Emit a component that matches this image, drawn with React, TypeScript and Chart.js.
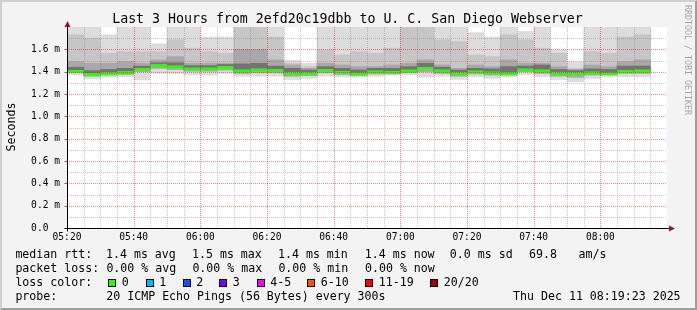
import React, { useEffect, useRef } from 'react';
import { Chart, registerables } from 'chart.js';

Chart.register(...registerables);

// ---------- text ----------
const chartTitle = 'Last 3 Hours from 2efd20c19dbb to U. C. San Diego Webserver';
const yAxisTitle = 'Seconds';
const watermark = 'RRDTOOL / TOBI OETIKER';
const probeLabel = 'probe:';
const probeText = '20 ICMP Echo Pings (56 Bytes) every 300s';
const stampText = 'Thu Dec 11 08:19:23 2025';
const rttRow = ['median rtt:', '1.4 ms avg', '1.5 ms max', '1.4 ms min', '1.4 ms now', '0.0 ms sd', '69.8', 'am/s'];
const lossRow = ['packet loss:', '0.00 % avg', '0.00 % max', '0.00 % min', '0.00 % now'];
const lossColorLabel = 'loss color:';
const lossLabels = ['0', '1', '2', '3', '4-5', '6-10', '11-19', '20/20'];
const lossColors = ['#26ff00', '#00b8ff', '#0059ff', '#7e00ff', '#ff00ff', '#ff5500', '#ff0000', '#a10000'];

// ---------- axes ----------
const axisStart = '05:20';
const axisEnd = '08:20';
const slotLength = 5; // minutes per bar
const xMajorLabels = ['05:20', '05:40', '06:00', '06:20', '06:40', '07:00', '07:20', '07:40', '08:00'];
const yMajorLabels = ['0.0', '0.2', '0.4', '0.6', '0.8', '1.0', '1.2', '1.4', '1.6'];
const yUnit = 'm';
const yMax = 1.8;

// ---------- data (ms) ----------
const slotStarts = [
  '05:20', '05:25', '05:30', '05:35', '05:40', '05:45', '05:50', '05:55',
  '06:00', '06:05', '06:10', '06:15', '06:20', '06:25', '06:30', '06:35',
  '06:40', '06:45', '06:50', '06:55', '07:00', '07:05', '07:10', '07:15',
  '07:20', '07:25', '07:30', '07:35', '07:40', '07:45', '07:50', '07:55',
  '08:00', '08:05', '08:10',
];
const maxRtt = [
  1.85, 1.85, 1.73, 1.85, 1.85, 1.65, 1.85, 1.85, 1.71, 1.71, 1.85, 1.85,
  1.85, 1.5, 1.475, 1.85, 1.85, 1.85, 1.85, 1.85, 1.85, 1.85, 1.85, 1.85,
  1.75, 1.71, 1.85, 1.76, 1.85, 1.595, 1.49, 1.85, 1.85, 1.85, 1.85,
];
const hiOuter = [
  1.73, 1.7, 1.565, 1.58, 1.58, 1.58, 1.685, 1.61, 1.58, 1.565, 1.85, 1.85,
  1.71, 1.475, 1.445, 1.595, 1.55, 1.58, 1.565, 1.61, 1.85, 1.85, 1.685, 1.67,
  1.55, 1.535, 1.73, 1.685, 1.61, 1.565, 1.43, 1.58, 1.565, 1.71, 1.73,
];
const hiMid = [
  1.49, 1.475, 1.475, 1.49, 1.475, 1.505, 1.535, 1.475, 1.475, 1.475, 1.6, 1.6,
  1.505, 1.46, 1.43, 1.475, 1.46, 1.445, 1.445, 1.46, 1.475, 1.505, 1.46, 1.43,
  1.46, 1.445, 1.505, 1.475, 1.475, 1.445, 1.42, 1.46, 1.445, 1.49, 1.505,
];
const hiInner = [
  1.44, 1.41, 1.42, 1.43, 1.45, 1.48, 1.48, 1.455, 1.455, 1.465, 1.47, 1.475,
  1.45, 1.43, 1.415, 1.445, 1.43, 1.415, 1.43, 1.43, 1.445, 1.475, 1.44, 1.415,
  1.43, 1.425, 1.445, 1.45, 1.46, 1.42, 1.41, 1.425, 1.42, 1.45, 1.45,
];
const medianRtt = [
  1.415, 1.385, 1.394, 1.403, 1.433, 1.466, 1.454, 1.436, 1.436, 1.448, 1.418, 1.427,
  1.424, 1.394, 1.394, 1.424, 1.406, 1.391, 1.409, 1.406, 1.418, 1.442, 1.418, 1.394,
  1.409, 1.4, 1.394, 1.427, 1.418, 1.394, 1.394, 1.4, 1.391, 1.412, 1.418,
];
const loInner = [
  1.403, 1.373, 1.382, 1.39, 1.42, 1.455, 1.442, 1.424, 1.424, 1.436, 1.405, 1.414,
  1.41, 1.38, 1.382, 1.41, 1.393, 1.378, 1.396, 1.394, 1.405, 1.428, 1.405, 1.38,
  1.396, 1.387, 1.382, 1.415, 1.405, 1.38, 1.38, 1.387, 1.38, 1.4, 1.405,
];
const loMid = [
  1.39, 1.36, 1.37, 1.375, 1.4, 1.43, 1.42, 1.405, 1.405, 1.415, 1.385, 1.39,
  1.39, 1.36, 1.365, 1.39, 1.375, 1.365, 1.38, 1.38, 1.39, 1.4, 1.385, 1.36,
  1.38, 1.37, 1.37, 1.4, 1.385, 1.36, 1.35, 1.37, 1.37, 1.385, 1.385,
];
const minRtt = [
  1.37, 1.335, 1.35, 1.355, 1.325, 1.385, 1.385, 1.37, 1.37, 1.385, 1.36, 1.36,
  1.36, 1.33, 1.34, 1.36, 1.355, 1.35, 1.36, 1.37, 1.37, 1.35, 1.36, 1.33,
  1.355, 1.34, 1.355, 1.375, 1.355, 1.33, 1.31, 1.34, 1.36, 1.355, 1.355,
];

// ---------- helpers ----------
const toMin = (s: string) => {
  const [h, m] = s.split(':').map(Number);
  return h * 60 + m;
};
const origin = toMin(axisStart);
const span = toMin(axisEnd) - origin;
const xCenters = slotStarts.map((s) => toMin(s) - origin + slotLength / 2);
const xGrid: number[] = [];
for (let m = 0; m < span; m += slotLength) xGrid.push(m);
const yGrid: number[] = [];
for (let i = 0; i < Math.round(yMax * 10); i++) yGrid.push(i / 10);

const isMajorX = (v: number) => Math.round(v) % 20 === 0;
const isMajorY = (v: number) => Math.round(v * 10) % 2 === 0;

const MONO = "'DejaVu Sans Mono', monospace";
const MAJOR = 'rgba(255,0,0,0.5)';
const MINOR = 'rgba(128,128,128,0.45)';

const band = (lo: number[], hi: number[], color: string, order: number) => ({
  type: 'bar' as const,
  data: xCenters.map((x, i) => ({ x, y: [lo[i], hi[i]] })),
  backgroundColor: color,
  borderWidth: 0,
  grouped: false,
  barPercentage: 1,
  categoryPercentage: 1,
  order,
});

const framePlugin = {
  id: 'rrdFrame',
  beforeDraw(chart: any) {
    const { ctx, chartArea: a } = chart;
    ctx.save();
    ctx.fillStyle = '#ffffff';
    ctx.fillRect(a.left, a.top, a.right - a.left, a.bottom - a.top);
    ctx.restore();
  },
  afterDatasetsDraw(chart: any) {
    // rrdtool draws its grid on top of the graph
    const { ctx, chartArea: a, scales } = chart;
    const xs = scales.x;
    const ys = scales.y;
    ctx.save();
    ctx.lineWidth = 1;
    ctx.setLineDash([1, 1]);
    const pass = (major: boolean) => {
      ctx.strokeStyle = major ? MAJOR : MINOR;
      ctx.beginPath();
      xGrid.forEach((v) => {
        if (isMajorX(v) !== major) return;
        const px = Math.round(xs.getPixelForValue(v)) + 0.5;
        ctx.moveTo(px, a.bottom);
        ctx.lineTo(px, a.top);
      });
      yGrid.forEach((v) => {
        if (isMajorY(v) !== major) return;
        const py = Math.round(ys.getPixelForValue(v)) + 0.5;
        ctx.moveTo(a.left, py);
        ctx.lineTo(a.right, py);
      });
      ctx.stroke();
    };
    pass(false);
    pass(true);
    ctx.restore();
  },
  afterDraw(chart: any) {
    const { ctx, scales } = chart;
    const xs = scales.x;
    const ys = scales.y;
    const ax = Math.round(xs.getPixelForValue(0)) + 0.5;
    const ay = Math.round(ys.getPixelForValue(0)) + 0.5;
    const top = ys.getPixelForValue(yMax);
    const right = xs.getPixelForValue(span);
    ctx.save();
    ctx.strokeStyle = 'rgba(120,20,20,0.7)';
    ctx.lineWidth = 1;
    ctx.beginPath();
    yGrid.forEach((v) => {
      if (!isMajorY(v) || v === 0) return;
      const py = Math.round(ys.getPixelForValue(v)) + 0.5;
      ctx.moveTo(ax - 3, py);
      ctx.lineTo(ax, py);
    });
    ctx.stroke();
    ctx.strokeStyle = '#000';
    ctx.beginPath();
    ctx.moveTo(ax, ay + 3);
    ctx.lineTo(ax, top - 4);
    ctx.moveTo(ax - 3, ay);
    ctx.lineTo(right + 2, ay);
    ctx.stroke();
    ctx.fillStyle = '#8c1c1c';
    ctx.beginPath();
    ctx.moveTo(ax, top - 6);
    ctx.lineTo(ax - 3, top);
    ctx.lineTo(ax + 3, top);
    ctx.closePath();
    ctx.fill();
    ctx.beginPath();
    ctx.moveTo(right + 8, ay);
    ctx.lineTo(right + 2, ay - 3);
    ctx.lineTo(right + 2, ay + 3);
    ctx.closePath();
    ctx.fill();
    ctx.restore();
  },
};

const rttX = [15.4, 106, 192, 278, 364.8, 449.8, 529, 578.5];
const lossX = [15.4, 106.4, 192.4, 278.4, 365];
const boxX = [108, 145.5, 182.5, 219, 256.5, 307, 365, 430];
const rowTop = [246.8, 260.8, 274.8, 289.2];

export default function App() {
  const ref = useRef<HTMLCanvasElement | null>(null);

  useEffect(() => {
    if (!ref.current) return;
    const chart = new Chart(ref.current, {
      type: 'bar',
      data: {
        datasets: [
          {
            type: 'bar',
            label: 'median',
            data: xCenters.map((x, i) => ({ x, y: medianRtt[i] })),
            backgroundColor: 'rgba(0,0,0,0)',
            borderColor: lossColors[0],
            borderWidth: { top: 2, right: 0, bottom: 0, left: 0 },
            borderSkipped: false,
            grouped: false,
            barPercentage: 1,
            categoryPercentage: 1,
            order: 0,
          } as any,
          band(loInner, hiInner, '#747474', 1) as any,
          band(loMid, hiMid, '#a8a8a8', 2) as any,
          band(loMid, hiOuter, '#c6c6c6', 3) as any,
          band(minRtt, maxRtt, '#dcdcdc', 4) as any,
        ],
      },
      options: {
        responsive: false,
        animation: false,
        events: [],
        layout: { padding: { left: 0, right: 30, top: 27, bottom: 62 } },
        plugins: {
          legend: { display: false },
          tooltip: { enabled: false },
          title: { display: false },
        },
        scales: {
          x: {
            type: 'linear',
            min: 0,
            max: span,
            offset: false,
            afterBuildTicks: (s: any) => {
              s.ticks = xGrid.map((v) => ({ value: v }));
            },
            afterFit: (s: any) => {
              s.height = 20;
            },
            ticks: {
              autoSkip: false,
              maxRotation: 0,
              minRotation: 0,
              padding: 3.5,
              color: '#000',
              font: { family: MONO, size: 9.6 },
              callback: (v: any) => {
                const m = Math.round(Number(v));
                return xMajorLabels.find((l) => toMin(l) - origin === m) ?? '';
              },
            },
            grid: { display: false, offset: false, drawTicks: false },
            border: { display: false },
          },
          y: {
            type: 'linear',
            min: 0,
            max: yMax,
            afterBuildTicks: (s: any) => {
              s.ticks = yGrid.map((v) => ({ value: v }));
            },
            afterFit: (s: any) => {
              s.width = 67;
            },
            ticks: {
              autoSkip: false,
              padding: 7,
              color: '#000',
              font: { family: MONO, size: 9.6 },
              callback: (v: any) => {
                const r = Math.round(Number(v) * 10);
                if (r % 2 !== 0) return '';
                const lab = yMajorLabels[r / 2];
                return r === 0 ? lab + '  ' : lab + ' ' + yUnit;
              },
            },
            grid: { display: false, drawTicks: false },
            border: { display: false },
          },
        },
      } as any,
      plugins: [framePlugin],
    });
    return () => chart.destroy();
  }, []);

  const textStyle: React.CSSProperties = {
    position: 'absolute',
    fontFamily: MONO,
    fontSize: '11.6px',
    lineHeight: '14px',
    whiteSpace: 'pre',
    color: '#000',
  };

  return (
    <div
      style={{
        position: 'fixed',
        left: 0,
        top: 0,
        width: 697,
        height: 310,
        background: '#f3f3f3',
        overflow: 'hidden',
      }}
    >
      <canvas ref={ref} width={697} height={310} style={{ position: 'absolute', left: 0, top: 0, width: 697, height: 310 }} />
      <div
        style={{
          position: 'absolute',
          left: 0,
          top: 0,
          width: 697,
          height: 310,
          boxSizing: 'border-box',
          borderTop: '2px solid #cfcfcf',
          borderLeft: '2px solid #cfcfcf',
          borderBottom: '2px solid #9e9e9e',
          borderRight: '2px solid #9e9e9e',
          pointerEvents: 'none',
        }}
      />
      <div
        style={{
          position: 'absolute',
          left: -1,
          top: 11.1,
          width: 697,
          textAlign: 'center',
          fontFamily: MONO,
          fontSize: '13.25px',
          lineHeight: '16px',
          whiteSpace: 'pre',
          color: '#000',
        }}
      >
        {chartTitle}
      </div>
      <div
        style={{
          ...textStyle,
          left: 10.5,
          top: 126.5,
          transform: 'translate(-50%, -50%) rotate(-90deg)',
        }}
      >
        {yAxisTitle}
      </div>
      <div
        style={{
          position: 'absolute',
          left: 687.9,
          top: 60,
          transform: 'translate(-50%, -50%) rotate(90deg)',
          fontFamily: MONO,
          fontSize: '8.3px',
          lineHeight: '10px',
          whiteSpace: 'pre',
          color: '#a6a6a6',
        }}
      >
        {watermark}
      </div>
      {rttRow.map((t, i) => (
        <div key={'r' + i} style={{ ...textStyle, left: rttX[i], top: rowTop[0] }}>
          {t}
        </div>
      ))}
      {lossRow.map((t, i) => (
        <div key={'l' + i} style={{ ...textStyle, left: lossX[i], top: rowTop[1] }}>
          {t}
        </div>
      ))}
      <div style={{ ...textStyle, left: 15.4, top: rowTop[2] }}>{lossColorLabel}</div>
      {lossLabels.map((t, i) => (
        <React.Fragment key={'c' + i}>
          <div
            style={{
              position: 'absolute',
              left: boxX[i],
              top: 279,
              width: 8,
              height: 8,
              boxSizing: 'border-box',
              border: '1px solid #000',
              background: lossColors[i],
            }}
          />
          <div style={{ ...textStyle, left: boxX[i] + 13.8, top: rowTop[2] }}>{t}</div>
        </React.Fragment>
      ))}
      <div style={{ ...textStyle, left: 15.4, top: rowTop[3] }}>{probeLabel}</div>
      <div style={{ ...textStyle, left: 106.3, top: rowTop[3] }}>{probeText}</div>
      <div style={{ ...textStyle, right: 697 - 680.6, top: rowTop[3] }}>{stampText}</div>
    </div>
  );
}
